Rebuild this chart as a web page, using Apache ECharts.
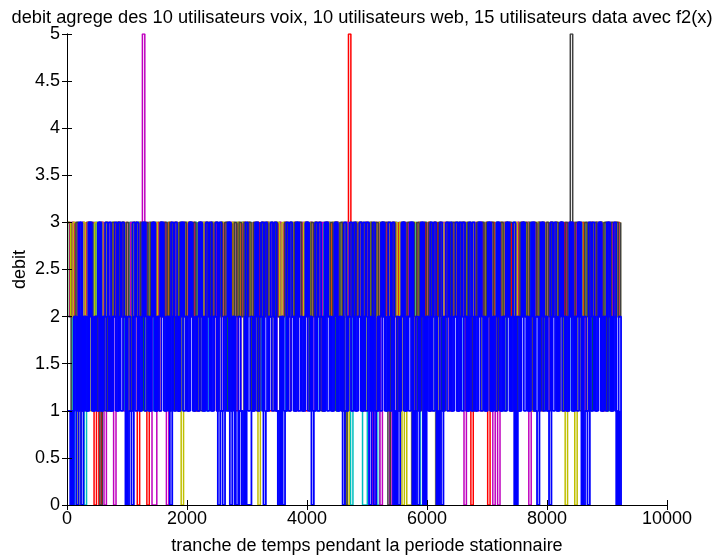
<!DOCTYPE html>
<html><head><meta charset="utf-8">
<script src="https://cdn.jsdelivr.net/npm/echarts@6/dist/echarts.min.js"></script>
<style>html,body{margin:0;padding:0;background:#fff}#c{width:714px;height:560px}</style>
</head><body><div id="c"></div>
<script>
// sampling step of the time slices (one value per step)
const STEP = 40;
const xTicks = [0, 2000, 4000, 6000, 8000, 10000];
const yTicks = [0, 0.5, 1, 1.5, 2, 2.5, 3, 3.5, 4, 4.5, 5];

const greenVals = [
3,2,3,2,3,2,1,2,3,2,3,2,3,2,3,2,3,1,2,3,
2,3,2,3,1,2,3,2,3,2,3,2,1,2,3,2,3,2,3,2,
3,2,3,1,2,3,2,3,2,3,2,3,2,3,1,2,3,2,3,2,
3,2,3,2,3,2,3,1,2,3,2,3,2,3,2,3,2,1,2,3,
2,3,2,3,2,3,2,3,2,1,2,3,2,3,2,3,2,3,2,3,
2,1,2,3,2,3,2,3,2,3,2,3,1,2,3,2,3,2,3,2,
3,2,3,2,3,2,3,2,1,2,3,2,3,2,3,2,3,2,1,2,
3,2,3,2,3,1,2,3,2,3,2,3,2,3,2,3,1,2,3,2,
3,2,3,2,3,2,3,2,3,1,2,3,2,3,2,3,2,3,2,3,
2,3,1,2,3,2,3,2,3,2,3,2,3,2,1,2,3,2,3,2,
3,2,3,2,3,2,3,1,2,3,2,3,2,3,2,3,2,3,1,2,
3,2,3,2,3,2,3,2,3,2,3];

const cyanVals = [
3,2,0,2,3,2,3,0,2,3,2,3,2,3,1,2,3,2,3,2,
3,2,3,2,1,2,3,2,3,2,3,2,3,2,3,1,2,3,2,3,
2,3,2,3,2,3,2,1,2,3,2,3,2,3,2,3,2,3,1,2,
3,2,3,2,3,2,3,2,1,2,3,2,3,2,3,2,3,2,3,2,
1,2,3,2,3,2,3,2,3,2,3,1,2,3,2,3,2,3,2,3,
2,3,2,3,1,2,3,2,3,2,3,2,3,2,3,2,3,2,0,2,
3,2,3,0,0,2,3,2,3,0,2,3,2,3,2,1,2,3,2,3,
2,3,2,3,2,3,2,0,2,3,2,3,1,2,3,2,3,2,3,2,
3,2,3,2,3,1,2,3,2,3,2,3,2,3,2,3,1,2,3,2,
3,2,3,2,3,2,3,2,1,2,3,2,3,2,3,2,3,2,3,1,
2,3,2,3,2,3,2,3,2,3,1,2,3,2,3,2,3,2,3,2,
3,2,3,2,3,1,2,3,2,3,2];

const redVals = [
3,2,3,2,1,2,3,2,3,2,2,0,2,0,3,2,3,1,2,3,
2,3,2,3,2,1,2,3,2,0,3,2,3,0,2,3,2,3,1,2,
3,2,3,2,3,2,1,2,3,2,3,2,3,1,2,3,2,3,2,3,
2,3,1,2,3,2,3,2,3,2,1,3,2,3,2,3,2,1,2,3,
2,3,2,3,1,2,3,2,3,2,3,2,1,2,3,2,3,2,3,1,
2,3,2,3,2,3,1,2,3,2,3,2,3,2,1,3,2,5,2,3,
2,3,2,1,3,2,3,2,3,1,2,3,2,3,2,3,2,1,3,2,
3,2,3,2,1,2,3,2,3,2,3,1,2,3,2,3,2,3,2,1,
2,3,2,3,2,3,1,2,0,2,3,2,3,2,3,0,2,3,1,2,
3,2,3,2,3,1,2,3,2,3,2,3,2,1,3,2,3,2,3,2,
1,3,2,3,2,3,2,3,1,2,3,2,3,2,3,2,1,2,3,2,
3,2,3,1,2,3,2,3,2,3,2];

const magentaVals = [
2,3,2,3,2,1,3,2,3,2,3,2,1,2,3,0,2,3,2,0,
2,3,2,1,3,2,3,2,3,2,3,5,2,3,2,0,0,2,3,2,
3,0,2,3,2,3,1,2,3,2,3,2,3,2,1,2,3,2,3,2,
3,2,3,1,2,3,2,3,2,3,2,1,2,3,2,3,2,3,2,1,
2,3,2,3,2,3,1,2,3,2,3,2,3,2,3,1,2,3,2,3,
2,3,1,2,3,2,3,2,3,2,1,2,3,2,3,2,3,2,1,2,
3,2,3,2,3,2,1,0,2,3,0,2,3,2,0,2,3,2,1,2,
3,2,3,2,1,2,3,2,0,2,3,2,3,2,1,2,3,2,3,2,
3,2,1,2,3,0,2,3,2,3,2,1,3,2,3,2,3,0,2,0,
2,3,2,3,2,1,2,3,2,3,2,3,0,2,3,2,3,1,2,3,
2,3,2,3,2,3,1,2,3,2,3,2,3,2,1,2,3,2,3,2,
3,2,1,2,3,2,3,2,3,2,3];

const yellowVals = [
3,2,3,2,0,2,3,2,3,1,2,3,2,3,2,3,1,2,3,2,
3,2,3,2,3,1,2,3,2,3,2,3,2,1,3,2,3,2,3,2,
1,2,3,2,3,2,3,0,2,3,2,3,1,2,3,2,3,2,3,2,
3,2,1,2,3,2,3,2,3,2,3,2,3,1,2,3,2,3,2,0,
2,3,2,3,2,1,2,3,2,3,2,3,2,3,1,2,3,2,3,2,
3,2,3,2,3,2,1,2,3,2,3,2,3,2,3,2,0,2,3,2,
3,2,3,1,2,3,2,3,2,3,2,3,2,1,3,2,3,2,3,0,
2,0,0,2,3,2,3,2,1,2,3,2,3,0,2,3,2,3,2,3,
2,3,1,2,3,2,3,2,3,2,3,2,1,2,3,2,3,2,3,2,
3,2,3,2,1,2,3,2,3,2,3,2,3,1,2,3,2,3,2,3,
2,3,2,3,2,1,2,0,2,3,2,0,2,3,2,3,1,2,3,2,
3,2,3,2,3,2,1,2,3,2,3];

const blackVals = [
2,1,2,3,2,1,2,1,2,3,1,2,1,0,2,1,2,1,3,2,
3,2,3,2,3,2,1,2,3,2,3,2,3,2,3,2,1,2,3,2,
3,2,3,2,1,2,3,2,3,2,3,2,3,2,3,1,2,3,2,3,
2,3,2,3,2,3,2,1,2,3,2,3,2,3,2,3,2,3,1,2,
3,2,3,2,3,2,3,2,1,2,3,2,3,2,3,2,3,1,2,3,
2,3,2,3,2,1,2,3,2,3,2,3,2,3,2,0,2,3,2,3,
2,3,1,2,3,2,3,2,3,2,3,2,3,0,2,3,2,1,2,3,
2,3,2,3,2,3,1,2,3,2,3,2,3,2,3,2,1,2,3,2,
3,2,3,2,3,2,3,2,1,2,3,2,3,2,3,2,3,2,1,2,
3,2,3,2,3,2,1,2,3,2,3,2,3,2,3,2,3,1,2,3,
2,3,2,3,2,3,2,3,2,5,2,3,2,1,2,3,2,3,2,3,
2,3,2,3,1,2,3,2,3,2,3];

const blueVals = [
1,0,2,0,3,0,2,1,3,2,1,2,3,1,2,3,2,1,2,3,
1,2,3,2,0,1,0,2,3,1,2,3,2,1,2,3,1,2,3,2,
1,2,0,2,3,1,2,3,2,1,3,2,1,2,3,2,1,3,2,1,
2,3,0,1,0,2,3,0,2,0,0,1,0,2,0,0,1,2,3,2,
3,0,1,2,3,2,1,0,2,0,1,2,3,2,1,3,2,1,2,3,
2,0,1,2,3,2,1,3,2,1,2,3,1,2,0,1,2,3,2,1,
2,3,1,2,3,0,2,0,1,2,3,2,1,3,2,0,1,0,2,3,
1,2,3,0,1,0,2,3,0,2,1,2,3,0,1,0,2,3,2,1,
2,3,1,2,3,2,1,2,3,1,2,3,2,1,2,3,1,2,3,2,
1,2,3,2,1,3,0,1,2,3,2,1,2,3,1,0,2,3,2,1,
0,2,3,1,2,3,2,1,2,3,1,2,3,2,0,1,0,2,3,1,
2,3,1,2,3,2,1,3,0,2,0];

const blue2Vals = [
1,0,1,2,1,3,1,2,1,3,1,2,1,3,1,2,1,3,1,2,
1,3,1,2,0,2,1,3,1,2,1,3,1,2,1,3,1,2,1,3,
1,2,1,3,1,2,1,3,1,2,1,3,1,2,1,3,1,2,1,3,
1,2,1,3,1,2,1,3,1,2,0,2,1,0,3,1,2,1,3,1,
2,1,3,1,2,1,3,1,0,2,1,3,1,2,1,3,1,2,1,3,
1,2,1,3,1,2,1,3,1,2,1,3,1,2,1,3,1,2,1,3,
1,2,1,3,1,2,1,3,1,2,1,3,1,2,1,3,0,2,1,3,
1,2,1,3,0,2,1,3,0,2,1,3,1,2,0,3,1,2,1,3,
1,2,1,3,1,2,1,3,1,2,1,3,1,2,1,3,1,2,1,3,
1,2,1,3,1,2,0,2,1,3,1,2,1,3,1,2,1,3,1,2,
1,3,1,2,1,3,1,2,1,3,1,2,1,3,0,2,1,3,1,2,
1,3,1,2,1,3,1,2,1,0,1];

// phase = fraction of a time slice by which each curve's samples are shifted
const seriesDefs = [
  {name: 'g',  color: '#008000', phase: 0.00, width: 1.5, vals: greenVals},
  {name: 'c',  color: '#00BFBF', phase: 0.14, width: 1.5, vals: cyanVals},
  {name: 'r',  color: '#FF0000', phase: 0.28, width: 1.5, vals: redVals},
  {name: 'm',  color: '#BF00BF', phase: 0.42, width: 1.5, vals: magentaVals},
  {name: 'y',  color: '#BFBF00', phase: 0.57, width: 1.5, vals: yellowVals},
  {name: 'k',  color: '#404040', phase: 0.71, width: 1.5, vals: blackVals},
  {name: 'b2', color: '#0000FF', phase: 0.35, width: 1.8, vals: blue2Vals},
  {name: 'b',  color: '#0000FF', phase: 0.85, width: 1.8, vals: blueVals}
];

const FONT = '"Liberation Sans", Arial, Helvetica, sans-serif';
const series = seriesDefs.map(d => ({
  type: 'line', step: 'end', name: d.name, showSymbol: false, symbol: 'none',
  silent: true, animation: false,
  lineStyle: {color: d.color, width: d.width},
  data: d.vals.map((v, i) => [(i + d.phase) * STEP, v])
}));

const axisCommon = {
  axisLine: {show: true, lineStyle: {color: '#000', width: 1}},
  axisTick: {show: true, inside: true, length: 5, lineStyle: {color: '#000'}},
  splitLine: {show: false}
};
const plain = v => String(v);

const chart = echarts.init(document.getElementById('c'), null, {renderer: 'canvas'});
chart.setOption({
  animation: false,
  backgroundColor: '#fff',
  title: {
    text: 'debit agrege des 10 utilisateurs voix, 10 utilisateurs web, 15 utilisateurs data avec f2(x)',
    left: 357, top: 4, textAlign: 'center',
    textStyle: {fontFamily: FONT, fontSize: 18.25, fontWeight: 'normal', color: '#000'}
  },
  grid: {left: 67, right: 47, top: 34, bottom: 51, containLabel: false},
  xAxis: [
    Object.assign({type: 'value', min: xTicks[0], max: xTicks[xTicks.length - 1],
      interval: xTicks[1] - xTicks[0], position: 'bottom', z: 10,
      name: 'tranche de temps pendant la periode stationnaire', nameLocation: 'middle',
      nameGap: 32, nameMoveOverlap: false,
      nameTextStyle: {fontFamily: FONT, fontSize: 18, color: '#000'},
      axisLabel: {fontFamily: FONT, fontSize: 18, color: '#000', margin: 5, formatter: plain}}, axisCommon),
    Object.assign({type: 'value', min: xTicks[0], max: xTicks[xTicks.length - 1],
      interval: xTicks[1] - xTicks[0], position: 'top', z: 10, axisLabel: {show: false}}, axisCommon)
  ],
  yAxis: [
    Object.assign({type: 'value', min: yTicks[0], max: yTicks[yTicks.length - 1],
      interval: yTicks[1] - yTicks[0], position: 'left', z: 10,
      name: 'debit', nameLocation: 'middle', nameGap: 38, nameRotate: 90, nameMoveOverlap: false,
      nameTextStyle: {fontFamily: FONT, fontSize: 18, color: '#000'},
      axisLabel: {fontFamily: FONT, fontSize: 18, color: '#000', margin: 7, formatter: plain}}, axisCommon),
    Object.assign({type: 'value', min: yTicks[0], max: yTicks[yTicks.length - 1],
      interval: yTicks[1] - yTicks[0], position: 'right', z: 10, axisLabel: {show: false}}, axisCommon)
  ],
  series: series
});
</script></body></html>
